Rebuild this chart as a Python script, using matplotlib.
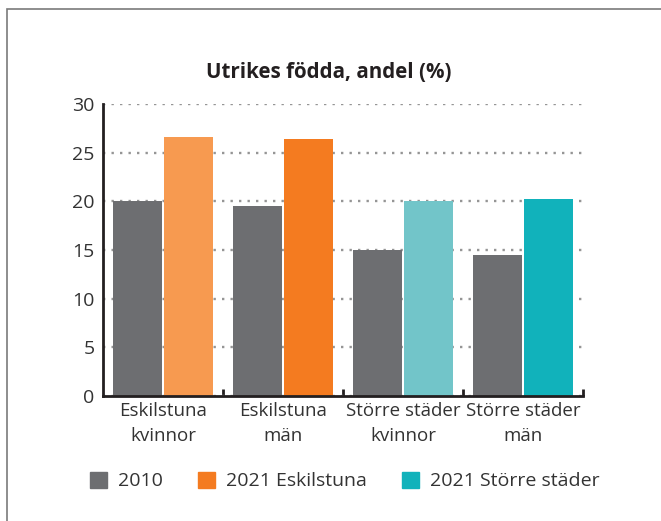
import numpy as np
import matplotlib.pyplot as plt
from matplotlib.patches import Rectangle, Patch

plt.rcParams['font.family'] = ['Open Sans', 'DejaVu Sans']

categories = ['Eskilstuna\nkvinnor', 'Eskilstuna\nmän', 'Större städer\nkvinnor', 'Större städer\nmän']
v2010 = [20.0, 19.5, 15.0, 14.5]
v2021 = [26.6, 26.4, 20.0, 20.2]
colors_2021 = ['#f79a50', '#f47b20', '#72c5c9', '#11b2bb']
gray = '#6d6e71'
text_col = '#333333'

fig = plt.figure(figsize=(6.61, 5.21), dpi=100)

# outer frame
fig.patches.append(Rectangle((7 / 661, -0.1), 1.2, 1 - 9 / 521 + 0.1, transform=fig.transFigure,
                             fill=False, edgecolor='#7a7a7a', linewidth=1.2))

ax = fig.add_axes([103 / 661, 1 - 396 / 521, 480 / 661, 292 / 521])
x = np.arange(len(categories))
w = 0.405
ax.bar(x - 0.2125, v2010, width=w, color=gray, zorder=2)
ax.bar(x + 0.2125, v2021, width=w, color=colors_2021, zorder=2)

ax.set_xlim(-0.5, 3.5)
ax.set_ylim(0, 30)
ax.set_yticks(range(0, 31, 5))
ax.yaxis.grid(True, linestyle=(0, (1, 2.6)), color='#959595', linewidth=1.7, zorder=0)
ax.set_axisbelow(True)

for s in ['top', 'right']:
    ax.spines[s].set_visible(False)
for s in ['left', 'bottom']:
    ax.spines[s].set_linewidth(2)
    ax.spines[s].set_color('#231f20')

ax.tick_params(axis='y', length=0, labelsize=14, labelcolor=text_col, pad=6)
ax.set_xticks(x)
ax.set_xticklabels(categories, fontsize=13.5, color=text_col, linespacing=1.5)
ax.tick_params(axis='x', length=0, pad=4)
# group separators on the x axis
ax.set_xticks([0.5, 1.5, 2.5, 3.5], minor=True)
ax.tick_params(axis='x', which='minor', direction='in', length=5, width=2, color='#231f20')

fig.text(0.497, 1 - 72 / 521, 'Utrikes födda, andel (%)', ha='center', va='center',
         fontsize=14.8, fontweight='bold', color='#231f20')

handles = [Patch(color=gray, label='2010'),
           Patch(color=colors_2021[1], label='2021 Eskilstuna'),
           Patch(color=colors_2021[3], label='2021 Större städer')]
fig.legend(handles=handles, loc='center left', bbox_to_anchor=(72 / 661, 1 - 481 / 521), ncol=3,
           frameon=False, fontsize=14, handlelength=0.9, handleheight=0.9, handletextpad=0.55,
           columnspacing=1.8, labelcolor=text_col)

fig.savefig('out.png', dpi=100)
